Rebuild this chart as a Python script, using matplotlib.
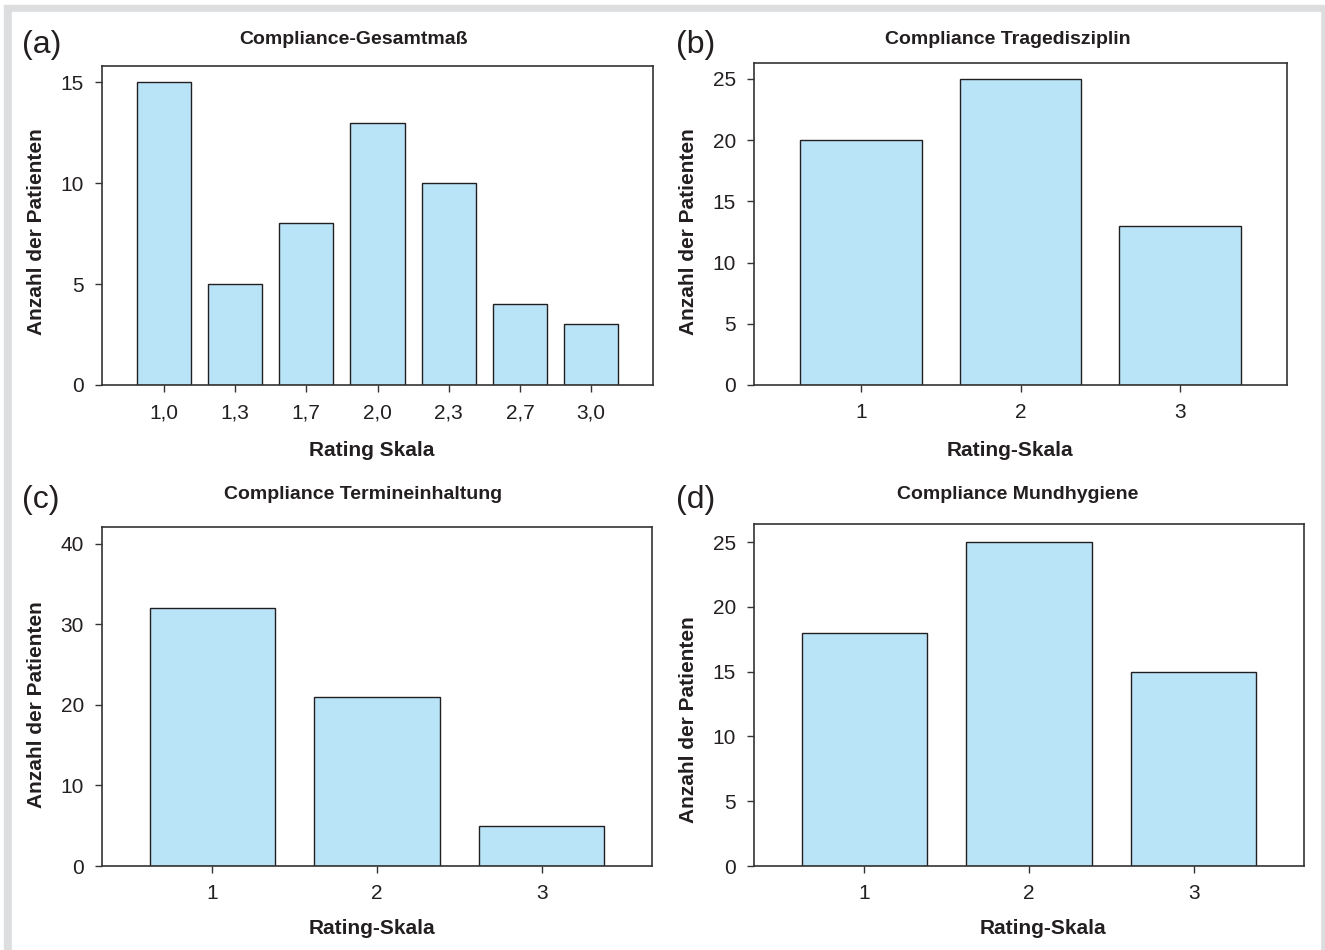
import matplotlib.pyplot as plt
from matplotlib.patches import Rectangle

plt.rcParams['font.family'] = ['Liberation Sans', 'DejaVu Sans']

# Data
cats_a = ['1,0', '1,3', '1,7', '2,0', '2,3', '2,7', '3,0']
vals_a = [15, 5, 8, 13, 10, 4, 3]
cats_3 = ['1', '2', '3']
vals_b = [20, 25, 13]
vals_c = [32, 21, 5]
vals_d = [18, 25, 15]

titles = ['Compliance-Gesamtmaß', 'Compliance Tragedisziplin',
          'Compliance Termineinhaltung', 'Compliance Mundhygiene']
xlabels = ['Rating Skala', 'Rating-Skala', 'Rating-Skala', 'Rating-Skala']
ylabel = 'Anzahl der Patienten'
letters = ['(a)', '(b)', '(c)', '(d)']

W, H = 1325, 950
txt = '#231f20'
bar_col = '#b9e4f8'

fig = plt.figure(figsize=(W / 100, H / 100), dpi=100)
fig.patch.set_facecolor('white')

# grey page frame
fig.patches.append(Rectangle((4 / W, -0.1), (W + 20) / W, 1.1 - 5 / H,
                             transform=fig.transFigure, color='#dcdddf', zorder=-2))
fig.patches.append(Rectangle((12 / W, -0.1), (1320 - 12) / W, 1.1 - 12 / H,
                             transform=fig.transFigure, color='white', zorder=-1))


def px_axes(l, r, t, b):
    return fig.add_axes([l / W, 1 - b / H, (r - l) / W, (b - t) / H])


panels = [
    dict(box=(102, 653, 66, 385), cats=cats_a, vals=vals_a, ylim=15.8,
         yticks=[0, 5, 10, 15], xlim=(-0.87, 6.87),
         letter=(22, 45), title=(353, 40), xl=(372, 451), yl=(37, 232)),
    dict(box=(754, 1287, 63, 385), cats=cats_3, vals=vals_b, ylim=26.3,
         yticks=[0, 5, 10, 15, 20, 25], xlim=(-0.67, 2.67),
         letter=(676, 45), title=(1008, 40), xl=(1010, 451), yl=(688, 232)),
    dict(box=(102, 652, 527, 866), cats=cats_3, vals=vals_c, ylim=42.1,
         yticks=[0, 10, 20, 30, 40], xlim=(-0.67, 2.67),
         letter=(22, 500), title=(363, 495), xl=(372, 928), yl=(37, 705)),
    dict(box=(754, 1304, 524, 866), cats=cats_3, vals=vals_d, ylim=26.4,
         yticks=[0, 5, 10, 15, 20, 25], xlim=(-0.67, 2.67),
         letter=(676, 500), title=(1018, 495), xl=(1043, 928), yl=(688, 720)),
]

for i, p in enumerate(panels):
    ax = px_axes(*p['box'])
    ax.bar(p['cats'], p['vals'], width=0.76, color=bar_col,
           edgecolor=txt, linewidth=1.0, zorder=2)
    ax.set_xlim(*p['xlim'])
    ax.set_ylim(0, p['ylim'])
    ax.set_yticks(p['yticks'])
    for s in ax.spines.values():
        s.set_color('#333333')
        s.set_linewidth(1.2)
    ax.tick_params(axis='both', direction='out', length=5, width=1.0,
                   color='#333333', labelsize=15, labelcolor=txt, pad=8)

    fig.text(p['letter'][0] / W, 1 - p['letter'][1] / H, letters[i],
             fontsize=23, color=txt, ha='left', va='center')
    fig.text(p['title'][0] / W, 1 - p['title'][1] / H, titles[i],
             fontsize=14, fontweight='bold', color=txt, ha='center', va='center')
    fig.text(p['xl'][0] / W, 1 - p['xl'][1] / H, xlabels[i],
             fontsize=15, fontweight='bold', color=txt, ha='center', va='center')
    fig.text(p['yl'][0] / W, 1 - p['yl'][1] / H, ylabel, rotation=90,
             fontsize=15, fontweight='bold', color=txt, ha='center', va='center')

fig.savefig('out.png', dpi=100)
